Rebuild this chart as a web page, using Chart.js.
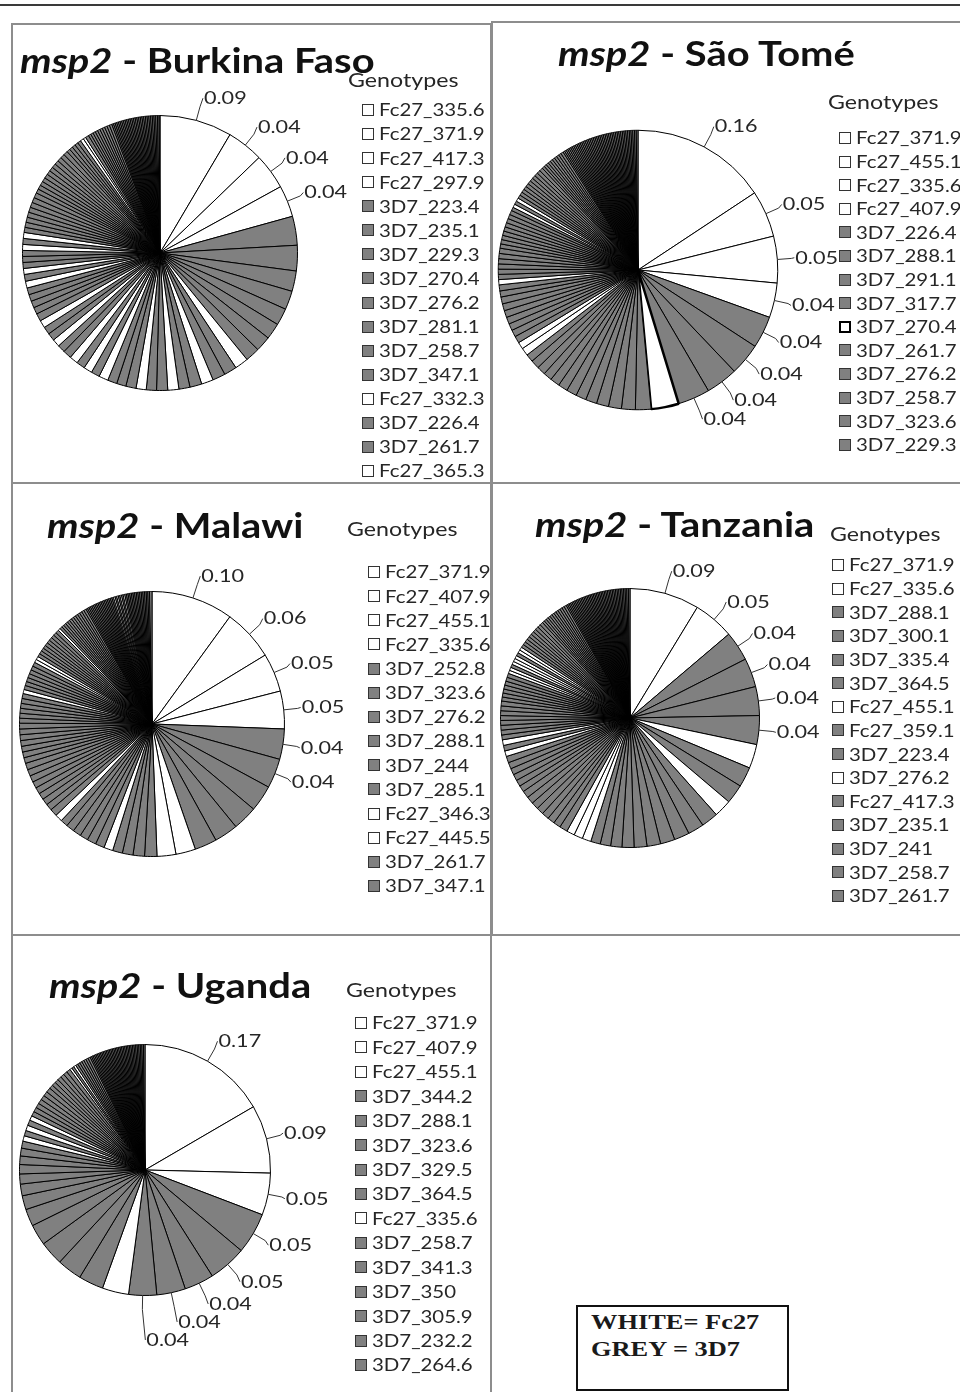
<!DOCTYPE html>
<html>
<head>
<meta charset="utf-8">
<title>msp2 genotype frequencies</title>
<script src="https://cdn.jsdelivr.net/npm/chart.js@4.4.1/dist/chart.umd.min.js"></script>
<style>
  html, body { margin: 0; padding: 0; background: #fff; }
  body { position: relative; width: 960px; height: 1392px; overflow: hidden; font-family: Lato, "Open Sans", sans-serif; }
  .rule { position: absolute; left: 0; top: 4px; width: 960px; height: 2px; background: #3a3a3a; }
  .panel { position: absolute; box-sizing: border-box; border: 2px solid #8d8d8d; }
  canvas { position: absolute; }
  .txt { position: absolute; white-space: nowrap; transform-origin: 0 0; }
  .title { font-weight: 700; color: #111; }
  .gtitle, .item { color: #262626; }
  .sw { position: absolute; box-sizing: border-box; width: 12px; height: 12px; border: 1px solid #333; }
  .key { position: absolute; left: 576px; top: 1305px; width: 213px; height: 86px; box-sizing: border-box; border: 2px solid #111; }
  .serif { font-family: "Liberation Serif", "Times New Roman", serif; font-weight: 700; color: #1a1a1a; }
</style>
</head>
<body>
<div class="rule"></div>
<div class="key"></div>
<script>
// genotype frequencies (per mille), slice order as in the original charts
// shade: W = white (Fc27), G = grey (3D7), X = white with heavy outline
const bfGenotypes = ["Fc27_335.6", "Fc27_371.9", "Fc27_417.3", "Fc27_297.9", "3D7_223.4", "3D7_235.1", "3D7_229.3", "3D7_270.4",
  "3D7_276.2", "3D7_281.1", "3D7_258.7", "3D7_347.1", "Fc27_332.3", "3D7_226.4", "3D7_261.7", "Fc27_365.3"];
const bfFreq = [
  85, 43, 42, 37, 34, 30, 24, 22, 20, 19,
  18, 17, 16, 15, 15, 14, 14, 13, 13, 13,
  12, 12, 12, 11, 11, 11, 10, 10, 10, 10,
  10, 9, 9, 9, 9, 9, 9, 8, 8, 8,
  8, 8, 8, 7, 7, 7, 7, 7, 7, 7,
  6, 6, 6, 6, 6, 6, 6, 6, 5, 5,
  5, 5, 5, 5, 5, 5, 5, 5, 5, 5,
  4, 4, 4, 4, 4, 4, 3, 4, 3, 3,
  3, 3, 3, 3, 3, 3, 3, 3, 2, 2,
  2, 2, 2, 2, 2, 2, 2, 2, 2, 2,
  2, 2, 2, 2, 2, 2, 2, 2, 2, 2,
  2, 2, 2, 2, 2, 2, 1];
const bfShade = ("WWWWGGGGGG GGWGGWGGWG GWGGGWGWGW GGWGGWGGGG GWGWGGGWGW GGGGGGGGGG " +
  "GGGGGGGGGG GGGGGWWGGG GGGGGGGGGG GGGGGGGGGG GGGGGGGGGG GGGGGGG").replace(/ /g, "").split("");

const stGenotypes = ["Fc27_371.9", "Fc27_455.1", "Fc27_335.6", "Fc27_407.9", "3D7_226.4", "3D7_288.1", "3D7_291.1", "3D7_317.7",
  "3D7_270.4", "3D7_261.7", "3D7_276.2", "3D7_258.7", "3D7_323.6", "3D7_229.3"];
const stFreq = [
  157, 54, 54, 40, 37, 37, 37, 37, 32, 18,
  16, 15, 14, 13, 12, 12, 11, 11, 10, 10,
  10, 9, 9, 8, 8, 8, 8, 8, 8, 8,
  8, 7, 7, 6, 6, 6, 6, 6, 6, 6,
  5, 5, 5, 5, 5, 5, 5, 5, 5, 4,
  4, 4, 4, 4, 4, 4, 4, 4, 4, 4,
  4, 4, 4, 4, 3, 3, 3, 3, 3, 3,
  3, 3, 3, 3, 2, 2, 2, 2, 2, 2,
  2, 2, 2, 2, 2, 2, 2, 2, 2, 2,
  2, 2, 2, 2, 2, 2, 2, 2, 2, 2,
  2, 2, 2, 2, 2, 2, 2, 2, 2, 2,
  2, 2, 2, 2, 2, 2, 2, 2, 2];
const stShade = ("WWWWGGGGXG GGGGGGGGGG GGWWGGGGGG GGGWGGGGGG GGGGGGGGGG WGWGGGGGGG " +
  "GGGGGGGGGG GGGGGGGGGG GGGGGGGGGG GGGGGGGGGG GGGGGGGGGG GGGGGGGGG").replace(/ /g, "").split("");

const mwGenotypes = ["Fc27_371.9", "Fc27_407.9", "Fc27_455.1", "Fc27_335.6", "3D7_252.8", "3D7_323.6", "3D7_276.2", "3D7_288.1",
  "3D7_244", "3D7_285.1", "Fc27_346.3", "Fc27_445.5", "3D7_261.7", "3D7_347.1"];
const mwFreq = [
  100, 63, 47, 46, 37, 36, 32, 30, 29, 27,
  24, 23, 15, 14, 13, 12, 11, 11, 11, 10,
  10, 10, 9, 9, 9, 8, 8, 8, 8, 8,
  8, 8, 8, 7, 7, 7, 7, 7, 7, 7,
  6, 6, 6, 6, 6, 6, 5, 5, 5, 5,
  5, 5, 5, 5, 4, 4, 4, 4, 4, 4,
  4, 4, 4, 4, 4, 4, 3, 3, 3, 3,
  3, 3, 3, 3, 3, 3, 3, 3, 3, 3,
  2, 2, 2, 2, 2, 2, 2, 2, 2, 2,
  2, 2, 2, 2, 2, 2, 2, 2, 2, 2,
  2, 2, 2, 2, 2, 2, 2, 2, 2, 2,
  2, 2, 2, 2, 2, 2, 2, 2, 2, 2, 3];
const mwShade = ("WWWWGGGGGG WWGGGGWGGG GGGWGGGGGG GGGGGGGGGG GGGGGGWGGG GGGGWWGGGG " +
  "GGGGGGWGGG GGGGGGGGGG GGGGGGGGGG GGGGGGGGWG WGWGWGGGGG GGGGGGGGGGG").replace(/ /g, "").split("");

const tzGenotypes = ["Fc27_371.9", "Fc27_335.6", "3D7_288.1", "3D7_300.1", "3D7_335.4", "3D7_364.5", "Fc27_455.1", "Fc27_359.1",
  "3D7_223.4", "3D7_276.2", "Fc27_417.3", "3D7_235.1", "3D7_241", "3D7_258.7", "3D7_261.7"];
const tzFreq = [
  87, 51, 37, 36, 36, 36, 30, 25, 24, 22,
  21, 20, 19, 18, 17, 16, 15, 14, 13, 12,
  11, 11, 10, 10, 9, 9, 9, 9, 9, 9,
  9, 8, 8, 8, 8, 8, 8, 7, 7, 7,
  6, 6, 6, 6, 6, 6, 6, 6, 5, 5,
  5, 5, 5, 5, 5, 4, 4, 4, 4, 4,
  4, 4, 4, 4, 4, 4, 4, 4, 4, 4,
  4, 4, 4, 4, 3, 3, 3, 3, 3, 3,
  3, 3, 3, 3, 3, 3, 2, 2, 2, 2,
  2, 2, 2, 2, 2, 2, 2, 2, 2, 2,
  2, 2, 2, 2, 2, 2, 2, 2, 2, 2,
  2, 2, 2, 2, 2, 2, 2, 2, 2, 2,
  2, 2, 2, 2, 2, 2, 2];
const tzShade = ("WWGGGGWGGW GGGGGGGGGG WWWGGGGGGG GGGGGGGWGW GGGGGGGGGG GGGGGWWGWW " +
  "WGWWGGGGGG GGGGGGGGGG GGGGGGGGGG GGGGGGGGGG GGGGGGGGGG GGGGGGGGGG GGGGGGG").replace(/ /g, "").split("");

const ugGenotypes = ["Fc27_371.9", "Fc27_407.9", "Fc27_455.1", "3D7_344.2", "3D7_288.1", "3D7_323.6", "3D7_329.5", "3D7_364.5",
  "Fc27_335.6", "3D7_258.7", "3D7_341.3", "3D7_350", "3D7_305.9", "3D7_232.2", "3D7_264.6"];
const ugFreq = [
  166, 88, 54, 53, 49, 38, 37, 36, 34, 32,
  32, 31, 27, 22, 18, 15, 13, 12, 11, 10,
  9, 7, 7, 7, 7, 6, 6, 6, 6, 6,
  6, 6, 6, 5, 5, 5, 5, 5, 5, 5,
  3, 3, 3, 3, 3, 3, 3, 3, 3, 3,
  2, 2, 2, 2, 2, 2, 2, 2, 2, 2,
  2, 2, 2, 2, 2, 2, 2, 2, 2, 2,
  2, 2, 2, 2, 2, 2, 2, 2, 2, 2,
  2, 2, 2, 2, 2, 2];
const ugShade = ("WWWGGGGGWG GGGGGGGGGG GWGWGWGGGG GGGGGGGGGG WGWGGGGGGG GGGGGGGGGG " +
  "GGGGGGGGGG GGGGGGGGGG GGGGGG").replace(/ /g, "").split("");

const GREY = "#808080";
const fillOf = (s) => (s === "G" ? GREY : "#ffffff");

// panel boxes, pie centre/radius, title and legend placement
const charts = [
  { place: "Burkina Faso", genotypes: bfGenotypes, freq: bfFreq, shade: bfShade,
    box: [11, 23, 481, 461], pie: [160, 253, 138], title: [20, 73], legend: { tx: 348, tb: 87, x: 362, y: 110, step: 24.07 } },
  { place: "São Tomé", genotypes: stGenotypes, freq: stFreq, shade: stShade,
    box: [491, 21, 471, 463], pie: [638, 270, 141], title: [558, 66], legend: { tx: 828, tb: 109, x: 839, y: 138, step: 23.6 } },
  { place: "Malawi", genotypes: mwGenotypes, freq: mwFreq, shade: mwShade,
    box: [11, 482, 481, 454], pie: [152, 724, 133], title: [47, 538], legend: { tx: 347, tb: 536, x: 368, y: 572, step: 24.15 } },
  { place: "Tanzania", genotypes: tzGenotypes, freq: tzFreq, shade: tzShade,
    box: [491, 482, 471, 454], pie: [630, 718, 130], title: [535, 537], legend: { tx: 830, tb: 541, x: 832, y: 565, step: 23.64 } },
  { place: "Uganda", genotypes: ugGenotypes, freq: ugFreq, shade: ugShade,
    box: [11, 934, 481, 460], pie: [145, 1170, 126], title: [49, 998], legend: { tx: 346, tb: 997, x: 355, y: 1023, step: 24.43 } },
];

// value labels with short leader lines, like the spreadsheet charts
const valueLabels = {
  id: "valueLabels",
  afterDatasetsDraw(chart, args, opts) {
    const ctx = chart.ctx;
    const values = chart.data.datasets[0].data;
    const total = values.reduce((a, b) => a + b, 0);
    const arcs = chart.getDatasetMeta(0).data;
    const placed = [];
    ctx.save();
    ctx.font = opts.size + "px Lato";
    ctx.fillStyle = "#262626";
    ctx.strokeStyle = "#333";
    ctx.lineWidth = 1;
    ctx.textBaseline = "middle";
    arcs.forEach((arc, i) => {
      const share = values[i] / total;
      if (share < opts.min) return;
      const p = arc.getProps(["x", "y", "startAngle", "endAngle", "outerRadius"], true);
      const a = (p.startAngle + p.endAngle) / 2;
      const cos = Math.cos(a), sin = Math.sin(a);
      const text = share.toFixed(2);
      const w = ctx.measureText(text).width * opts.stretch;
      const ax = p.x + cos * (p.outerRadius + opts.gap);
      const ay = p.y + sin * (p.outerRadius + opts.gap);
      const side = cos >= -0.05 ? 1 : -1;
      let lx = side > 0 ? ax + 4 : ax - 4 - w;
      let ly = ay + sin * opts.size * 0.5;
      placed.forEach((q) => {
        if (lx < q.x + q.w && lx + w > q.x && Math.abs(ly - q.y) < opts.size) ly = q.y + opts.size;
      });
      placed.push({ x: lx, y: ly, w: w });
      ctx.beginPath();
      ctx.moveTo(p.x + cos * p.outerRadius, p.y + sin * p.outerRadius);
      ctx.lineTo(ax, ay);
      ctx.lineTo(side > 0 ? lx - 1 : lx + w + 1, ly);
      ctx.stroke();
      ctx.save();
      ctx.translate(lx, ly);
      ctx.scale(opts.stretch, 1);
      ctx.fillText(text, 0, 0);
      ctx.restore();
    });
    ctx.restore();
  },
};

function addText(html, x, baseline, size, stretch, cls, ascent) {
  const el = document.createElement("div");
  el.className = "txt " + cls;
  el.innerHTML = html;
  el.style.fontSize = size + "px";
  el.style.lineHeight = size + "px";
  el.style.left = x + "px";
  el.style.top = (baseline - size * ascent) + "px";
  el.style.transform = "scaleX(" + stretch + ")";
  document.body.appendChild(el);
}

charts.forEach((c) => {
  const [bx, by, bw, bh] = c.box;
  const panel = document.createElement("div");
  panel.className = "panel";
  Object.assign(panel.style, { left: bx + "px", top: by + "px", width: bw + "px", height: bh + "px" });
  document.body.appendChild(panel);

  const canvas = document.createElement("canvas");
  canvas.width = bw;
  canvas.height = bh;
  Object.assign(canvas.style, { left: bx + "px", top: by + "px", width: bw + "px", height: bh + "px" });
  document.body.appendChild(canvas);

  const [cx, cy, r] = c.pie;
  new Chart(canvas, {
    type: "pie",
    data: {
      labels: c.freq.map((v, i) => c.genotypes[i] || ""),
      datasets: [{
        data: c.freq,
        backgroundColor: c.shade.map(fillOf),
        borderColor: "#000",
        borderWidth: c.shade.map((s) => (s === "X" ? 2.5 : 1)),
      }],
    },
    options: {
      responsive: false,
      animation: false,
      events: [],
      layout: { padding: { left: cx - r - bx, top: cy - r - by, right: bx + bw - cx - r, bottom: by + bh - cy - r } },
      plugins: {
        legend: { display: false },
        tooltip: { enabled: false },
        valueLabels: { min: 0.035, size: 18, stretch: 1.2, gap: 14 },
      },
    },
    plugins: [valueLabels],
  });

  addText("<i>msp2</i> - " + c.place, c.title[0], c.title[1], 35, 1.14, "title", 0.887);

  const lg = c.legend;
  addText("Genotypes", lg.tx, lg.tb, 19, 1.22, "gtitle", 0.887);
  c.genotypes.forEach((g, i) => {
    const yc = lg.y + i * lg.step;
    const sw = document.createElement("div");
    sw.className = "sw";
    sw.style.left = lg.x + "px";
    sw.style.top = (yc - 6) + "px";
    sw.style.background = fillOf(c.shade[i]);
    if (c.shade[i] === "X") { sw.style.borderWidth = "2px"; sw.style.borderColor = "#000"; }
    document.body.appendChild(sw);
    addText(g, lg.x + 17, yc + 6.5, 17, 1.2, "item", 0.887);
  });
});

addText("WHITE= Fc27", 591, 1329, 22, 1.2, "serif", 0.8375);
addText("GREY = 3D7", 591, 1356, 22, 1.2, "serif", 0.8375);
</script>
</body>
</html>
